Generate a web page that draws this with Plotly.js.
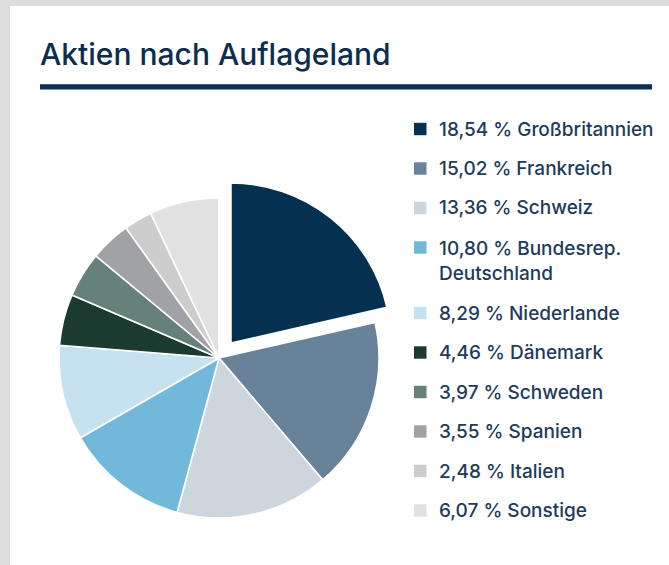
<!DOCTYPE html>
<html><head><meta charset="utf-8">
<script src="https://cdn.plot.ly/plotly-3.0.1.min.js"></script>
<style>
html,body{margin:0;padding:0;background:#dddddf;width:669px;height:565px;overflow:hidden}
#card{position:absolute;left:10px;top:6px;width:659px;height:559px;background:#fff}
#chart{position:absolute;left:0;top:0;width:659px;height:559px}
</style></head><body>
<div id="card"><div id="chart"></div></div>
<script>
const titleText = 'Aktien nach Auflageland';
const categories = ['Großbritannien','Frankreich','Schweiz','Bundesrep. Deutschland','Niederlande','Dänemark','Schweden','Spanien','Italien','Sonstige'];
const values = [18.54, 15.02, 13.36, 10.80, 8.29, 4.46, 3.97, 3.55, 2.48, 6.07];
const colors = ['#05304f','#68829a','#cdd5dd','#72b8db','#c6e2f1','#1b3b31','#66807a','#a1a2a6','#cdcdcd','#e1e1e1'];
const pulls = [0.12, 0, 0, 0, 0, 0, 0, 0, 0, 0];

const W = 659, H = 559, OX = 10, OY = 6;
const px = x => (x - OX) / W;
const py = y => 1 - (y - OY) / H;

// pie domain: centre (219,358) page px, half-size 179.2
const cx = 219, cy = 358, half = 179.2;

const trace = {
  type: 'pie',
  labels: categories,
  values: values,
  sort: false,
  direction: 'clockwise',
  rotation: 0,
  pull: pulls,
  textinfo: 'none',
  hoverinfo: 'label+percent',
  marker: {colors: colors, line: {color: '#ffffff', width: 1.6}},
  domain: {x: [px(cx - half), px(cx + half)], y: [py(cy + half), py(cy - half)]},
  showlegend: false
};

const fmt = v => v.toFixed(2).replace('.', ',');
const rowStep = 39.5, row0 = 129, extra = 26;
const shapes = [{
  type: 'rect', xref: 'paper', yref: 'paper',
  x0: px(40), x1: px(652), y0: py(89.6), y1: py(84.2),
  fillcolor: '#0a2f52', line: {width: 0}
}];
const annotations = [];
categories.forEach((c, i) => {
  const rowY = row0 + rowStep * i + (i > 3 ? extra : 0);
  const label = c.replace('Bundesrep. ', 'Bundesrep.<br>');
  const lines = label.split('<br>').length;
  const textY = rowY + (lines - 1) * extra / 2;
  shapes.push({
    type: 'rect', xref: 'paper', yref: 'paper',
    x0: px(414), x1: px(426.5), y0: py(rowY + 6.2), y1: py(rowY - 6.2),
    fillcolor: colors[i], line: {width: 0}
  });
  annotations.push({
    xref: 'paper', yref: 'paper', x: px(437), y: py(textY),
    xanchor: 'left', yanchor: 'middle', align: 'left', showarrow: false,
    text: fmt(values[i]) + ' % ' + label,
    font: {family: 'Inter, "Open Sans", sans-serif', size: 19, weight: 500, color: '#1d3b5b'}
  });
});

const layout = {
  width: W, height: H,
  margin: {l: 0, r: 0, t: 0, b: 0},
  paper_bgcolor: '#ffffff',
  title: {
    text: titleText,
    xref: 'container', yref: 'container',
    x: (40 - OX) / W, xanchor: 'left',
    y: 1 - (65 - OY) / H, yanchor: 'bottom',
    font: {family: 'Inter, "Open Sans", sans-serif', size: 30, weight: 500, color: '#0c2d4f'}
  },
  shapes: shapes,
  annotations: annotations,
  showlegend: false
};

Plotly.newPlot('chart', [trace], layout, {displayModeBar: false, staticPlot: true});
</script>
</body></html>
